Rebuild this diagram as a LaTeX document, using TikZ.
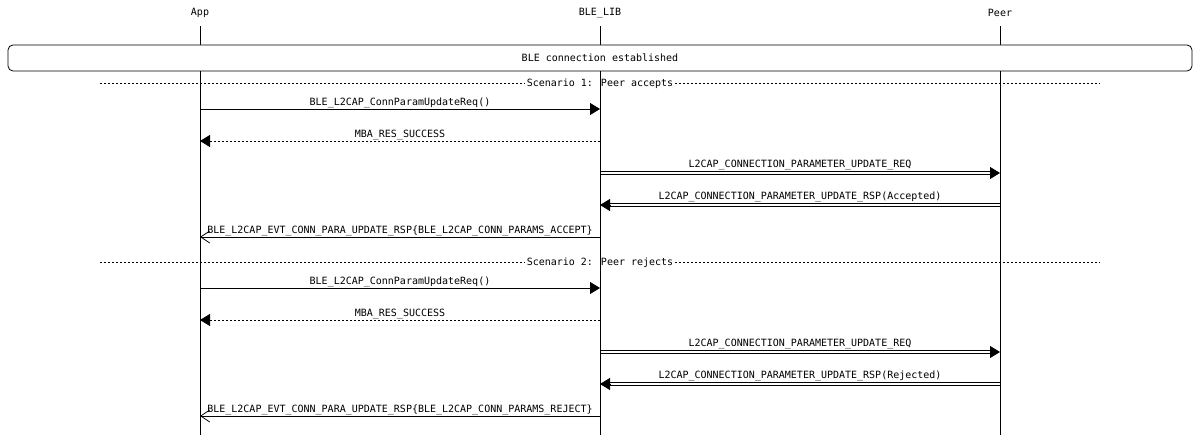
\documentclass[tikz,border=0pt]{standalone}
\usepackage{fontspec}
\newfontfamily\mscfont{DejaVu Sans Mono}
\usetikzlibrary{arrows.meta,calc}
\tikzset{
  txt/.style={font=\mscfont\fontsize{10}{12}\selectfont, inner sep=0pt},
  lbl/.style={txt, anchor=base},
  life/.style={line width=0.8pt},
  msg/.style={line width=0.8pt, -{Triangle[length=10pt,width=12pt]}},
  ret/.style={msg, dash pattern=on 2pt off 2pt},
  rail/.style={line width=0.8pt},
  open/.style={line width=0.8pt, -{Straight Barb[length=9pt,width=12pt,line width=0.8pt]}},
  sep/.style={line width=0.8pt, dash pattern=on 2pt off 2pt},
}
% double-line message: #1 from node, #2 to node, #3 y, #4 direction (+1 right, -1 left)
\newcommand{\mscDbl}[4]{%
  \draw[rail] ($(#1 |- 0,#3)+(0,-1.6)$) -- ($(#2 |- 0,#3)+(-8*#4,-1.6)$);
  \draw[rail] ($(#1 |- 0,#3)+(0,1.6)$) -- ($(#2 |- 0,#3)+(-8*#4,1.6)$);
  \draw[msg] ($(#2 |- 0,#3)+(-10*#4,0)$) -- (#2 |- 0,#3);
}
\begin{document}
\begin{tikzpicture}[x=1pt,y=-1pt]
\useasboundingbox (0,0) rectangle (1200,435);
% headers
\node[txt] (app) at (200,13) {App};
\node[txt] (lib) at (600,13) {BLE\_LIB};
\node[txt] (peer) at (1000,13) {Peer};
\coordinate (append) at (200,435);
\coordinate (libend) at (600,435);
\coordinate (peerend) at (1000,435);
\draw[life] (app |- 0,26) -- (append);
\draw[life] (lib |- 0,26) -- (libend);
\draw[life] (peer |- 0,26) -- (peerend);
% box
\draw[line width=0.8pt, fill=white, rounded corners=5pt] (8,45) rectangle (1192,71);
\node[txt] (conn) at (600,58) {BLE connection established};
% scenario 1
\node[txt] (s1) at (600,84) {\,Scenario 1: Peer accepts\,};
\coordinate (s1l) at (100,83.5);
\coordinate (s1r) at (1100,83.5);
\draw[sep] (s1l) -- (s1.west |- s1l);
\draw[sep] (s1.east |- s1r) -- (s1r);
\draw[msg] (app |- 0,109) -- (lib |- 0,109);
\node[lbl] (m1) at (400,106) {BLE\_L2CAP\_ConnParamUpdateReq()};
\draw[ret] (lib |- 0,141) -- (app |- 0,141);
\node[lbl] (m2) at (400,138) {MBA\_RES\_SUCCESS};
\mscDbl{lib}{peer}{173}{1}
\node[lbl] (m3) at (800,168) {L2CAP\_CONNECTION\_PARAMETER\_UPDATE\_REQ};
\mscDbl{peer}{lib}{205}{-1}
\node[lbl] (m4) at (800,200) {L2CAP\_CONNECTION\_PARAMETER\_UPDATE\_RSP(Accepted)};
\draw[open] (lib |- 0,237) -- (app |- 0,237);
\node[lbl] (m5) at (400,234) {BLE\_L2CAP\_EVT\_CONN\_PARA\_UPDATE\_RSP\{BLE\_L2CAP\_CONN\_PARAMS\_ACCEPT\}};
% scenario 2
\node[txt] (s2) at (600,263) {\,Scenario 2: Peer rejects\,};
\coordinate (s2l) at (100,262.5);
\coordinate (s2r) at (1100,262.5);
\draw[sep] (s2l) -- (s2.west |- s2l);
\draw[sep] (s2.east |- s2r) -- (s2r);
\draw[msg] (app |- 0,288) -- (lib |- 0,288);
\node[lbl] (m6) at (400,285) {BLE\_L2CAP\_ConnParamUpdateReq()};
\draw[ret] (lib |- 0,320) -- (app |- 0,320);
\node[lbl] (m7) at (400,317) {MBA\_RES\_SUCCESS};
\mscDbl{lib}{peer}{352}{1}
\node[lbl] (m8) at (800,347) {L2CAP\_CONNECTION\_PARAMETER\_UPDATE\_REQ};
\mscDbl{peer}{lib}{384}{-1}
\node[lbl] (m9) at (800,379) {L2CAP\_CONNECTION\_PARAMETER\_UPDATE\_RSP(Rejected)};
\draw[open] (lib |- 0,416) -- (app |- 0,416);
\node[lbl] (m10) at (400,413) {BLE\_L2CAP\_EVT\_CONN\_PARA\_UPDATE\_RSP\{BLE\_L2CAP\_CONN\_PARAMS\_REJECT\}};
\end{tikzpicture}
\end{document}
